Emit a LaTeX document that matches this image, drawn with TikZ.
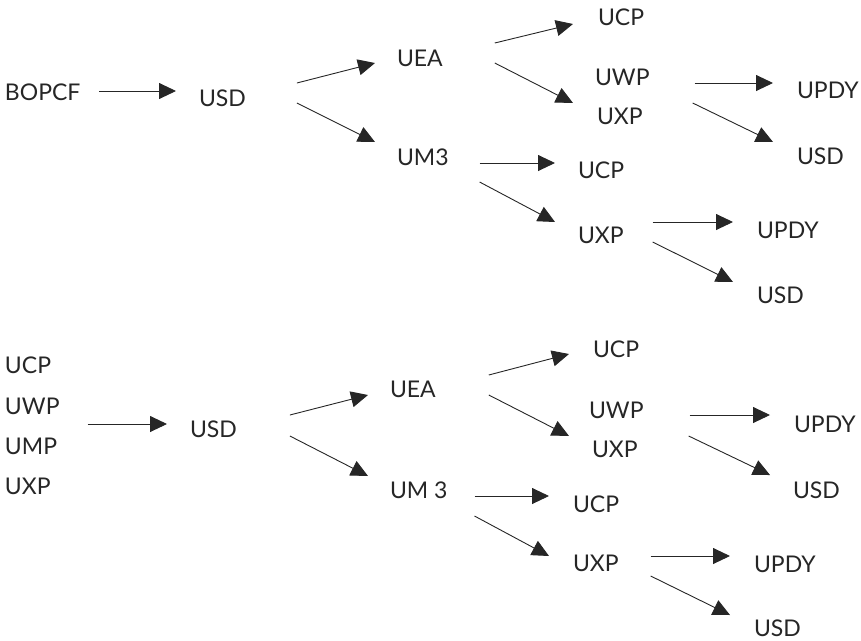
\documentclass[tikz,border=0pt]{standalone}
\usepackage{fontspec}
\setmainfont{Lato}
\usetikzlibrary{arrows.meta,calc}

\begin{document}
\begin{tikzpicture}
          [x = 1pt, y = -1pt,
           every node/.style = {anchor = base west, inner sep = 0pt, outer sep = 0pt,
                                text = black!85, font = \fontsize{23}{27}\selectfont},
           flow/.style = {-{Triangle[length=17pt,width=16pt]}, line width = 0.9pt, black!85}]

\useasboundingbox (0,0) rectangle (861,640);

% Upper chain
  \node (bopcf)  at (5,100)   {BOPCF};
  \node (usdA)   at (199,106) {USD};
  \node (ueaA)   at (397,66)  {UEA};
  \node (umA)    at (397,165) {UM3};
  \node (ucpA)   at (598,25)  {UCP};
  \node (uwpA)   at (595,85)  {UWP};
  \node (uxpA)   at (597,124) {UXP};
  \node (updyA)  at (797,98)  {UPDY};
  \node (usdA2)  at (797,164) {USD};
  \node (ucpA2)  at (578,178) {UCP};
  \node (uxpA2)  at (578,243) {UXP};
  \node (updyA2) at (757,238) {UPDY};
  \node (usdA3)  at (757,303) {USD};

% Lower chain
  \node (ucpB)   at (5,373)   {UCP};
  \node (uwpB)   at (5,414)   {UWP};
  \node (umpB)   at (5,454)   {UMP};
  \node (uxpB)   at (5,494)   {UXP};
  \node (usdB)   at (190,437) {USD};
  \node (ueaB)   at (390,397) {UEA};
  \node (umB)    at (390,498) {UM 3};
  \node (ucpB2)  at (593,357) {UCP};
  \node (uwpB2)  at (589,418) {UWP};
  \node (uxpB2)  at (592,457) {UXP};
  \node (updyB)  at (794,432) {UPDY};
  \node (usdB2)  at (793,498) {USD};
  \node (ucpB3)  at (573,512) {UCP};
  \node (uxpB3)  at (573,571) {UXP};
  \node (updyB2) at (754,572) {UPDY};
  \node (usdB3)  at (754,636) {USD};

% arrows, upper chain
  \draw [flow] ($(bopcf.base east)+(19,-9)$)  -- ($(usdA.base west)+(-23,-15)$);
  \draw [flow] ($(usdA.base east)+(51,-23)$)  -- ($(ueaA.base west)+(-22,-3)$);
  \draw [flow] ($(usdA.base east)+(51,-3)$)   -- ($(umA.base west)+(-22,-23)$);
  \draw [flow] ($(ueaA.base east)+(52,-23)$)  -- ($(ucpA.base west)+(-25,-1)$);
  \draw [flow] ($(ueaA.base east)+(52,-3)$)   -- ($(uxpA.base west)+(-24,-21)$);
  \draw [flow] ($(uwpA.base east)+(45,-2)$)   -- ($(updyA.base west)+(-24,-15)$);
  \draw [flow] ($(uxpA.base east)+(50,-21)$)  -- ($(usdA2.base west)+(-24,-22)$);
  \draw [flow] ($(umA.base east)+(31,-2)$)    -- ($(ucpA2.base west)+(-23,-15)$);
  \draw [flow] ($(umA.base east)+(31,17)$)    -- ($(uxpA2.base west)+(-23,-21)$);
  \draw [flow] ($(uxpA2.base east)+(29,-21)$) -- ($(updyA2.base west)+(-24,-16)$);
  \draw [flow] ($(uxpA2.base east)+(29,-1)$)  -- ($(usdA3.base west)+(-24,-21)$);

% arrows, lower chain
  \draw [flow] ($(uwpB.base east)+(28,10)$)   -- ($(usdB.base west)+(-23,-13)$);
  \draw [flow] ($(usdB.base east)+(53,-22)$)  -- ($(ueaB.base west)+(-22,-2)$);
  \draw [flow] ($(usdB.base east)+(53,-1)$)   -- ($(umB.base west)+(-22,-22)$);
  \draw [flow] ($(ueaB.base east)+(53,-22)$)  -- ($(ucpB2.base west)+(-24,-3)$);
  \draw [flow] ($(ueaB.base east)+(53,-2)$)   -- ($(uxpB2.base west)+(-23,-21)$);
  \draw [flow] ($(uwpB2.base east)+(46,-3)$)  -- ($(updyB.base west)+(-24,-17)$);
  \draw [flow] ($(uxpB2.base east)+(51,-21)$) -- ($(usdB2.base west)+(-23,-23)$);
  \draw [flow] ($(umB.base east)+(27,-2)$)    -- ($(ucpB3.base west)+(-24,-16)$);
  \draw [flow] ($(umB.base east)+(27,18)$)    -- ($(uxpB3.base west)+(-24,-15)$);
  \draw [flow] ($(uxpB3.base east)+(32,-15)$) -- ($(updyB2.base west)+(-24,-16)$);
  \draw [flow] ($(uxpB3.base east)+(32,5)$)   -- ($(usdB3.base west)+(-24,-21)$);

\end{tikzpicture}
\end{document}
